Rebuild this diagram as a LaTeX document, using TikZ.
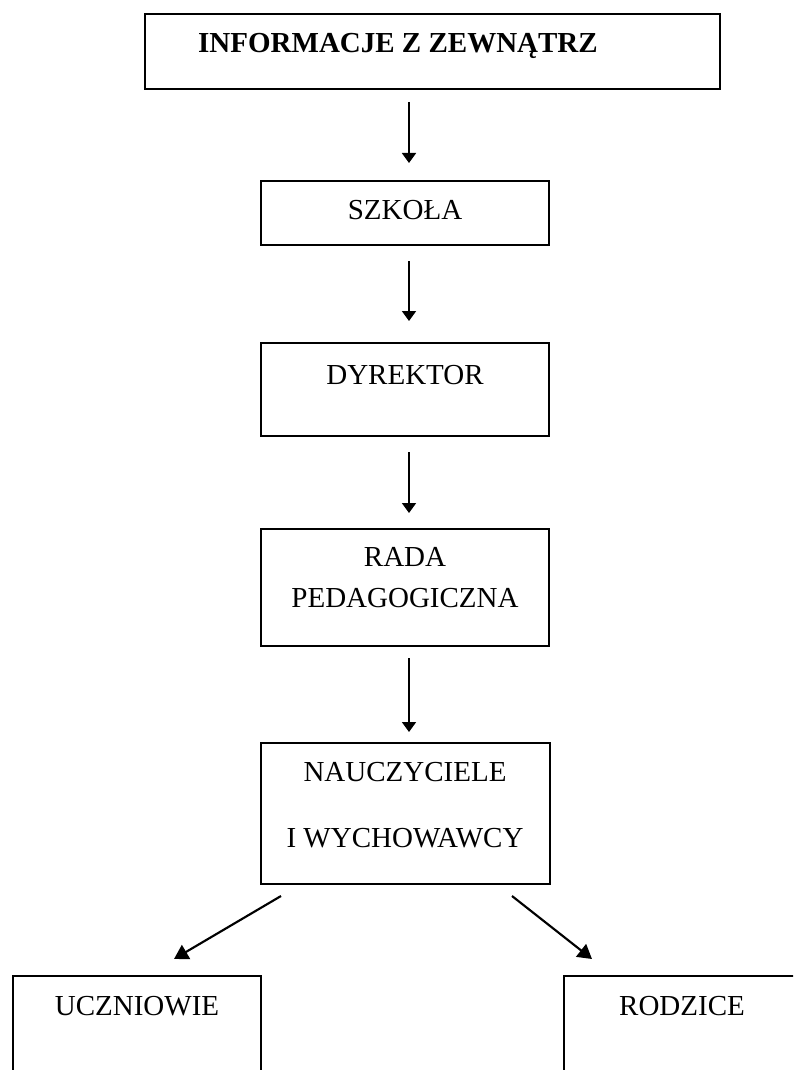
\documentclass[tikz,border=0pt]{standalone}
\usepackage{fontspec}
\setmainfont{Liberation Serif}
\usetikzlibrary{arrows.meta,calc}
\def\u{0.75pt}
\tikzset{
  box/.style={draw, line width=1.4pt, inner sep=0pt, outer sep=0pt, rectangle},
  lbl/.style={anchor=base, inner sep=0pt, font=\fontsize{21.75pt}{26pt}\selectfont},
  arr/.style={line width=1.4pt, -{Triangle[length=7.5pt,width=10.5pt]}},
  darr/.style={line width=1.6pt, -{Triangle[length=10.5pt,width=12pt]}}
}
\begin{document}
\begin{tikzpicture}[x=0.75pt,y=-0.75pt]
\useasboundingbox (0,0) rectangle (793,1070);
\clip (0,0) rectangle (793,1070);
% boxes
\node[box, minimum width=575*\u, minimum height=75*\u] (b1) at (432.5,51.5) {};
\node[box, minimum width=288*\u, minimum height=64*\u] (b2) at (405,213) {};
\node[box, minimum width=288*\u, minimum height=93*\u] (b3) at (405,389.5) {};
\node[box, minimum width=288*\u, minimum height=117*\u] (b4) at (405,587.5) {};
\node[box, minimum width=289*\u, minimum height=141*\u] (b5) at (405.5,813.5) {};
\node[box, minimum width=248*\u, minimum height=140*\u] (b6) at (137,1046) {};
\node[box, minimum width=280*\u, minimum height=140*\u] (b7) at (704,1046) {};
% texts
\node[lbl, font=\fontsize{21.75pt}{26pt}\selectfont\bfseries] (t1) at (398,53) {INFORMACJE Z ZEWNĄTRZ};
\node[lbl] (t2) at (405,219) {SZKOŁA};
\node[lbl] (t3) at (405,384) {DYREKTOR};
\node[lbl] (t4a) at (405,566) {RADA};
\node[lbl] (t4b) at (405,607) {PEDAGOGICZNA};
\node[lbl] (t5a) at (405,781) {NAUCZYCIELE};
\node[lbl] (t5b) at (405,847) {I WYCHOWAWCY};
\node[lbl] (t6) at (137,1015) {UCZNIOWIE};
\node[lbl] (t7) at (682,1015) {RODZICE};
% arrows
\coordinate (ax) at (409,0);
\draw[arr, shorten <=9.75pt, shorten >=13.5pt] (b1.south -| ax) -- (b2.north -| ax);
\draw[arr, shorten <=12pt, shorten >=16.5pt] (b2.south -| ax) -- (b3.north -| ax);
\draw[arr, shorten <=12pt, shorten >=12pt] (b3.south -| ax) -- (b4.north -| ax);
\draw[arr, shorten <=9pt, shorten >=8.25pt] (b4.south -| ax) -- (b5.north -| ax);
\draw[darr] ($(b5.south west)+(20,12)$) -- ($(b6.north west)+(161,-17)$);
\draw[darr] ($(b5.south east)+(-38,12)$) -- ($(b7.north west)+(28,-17)$);
\end{tikzpicture}
\end{document}
